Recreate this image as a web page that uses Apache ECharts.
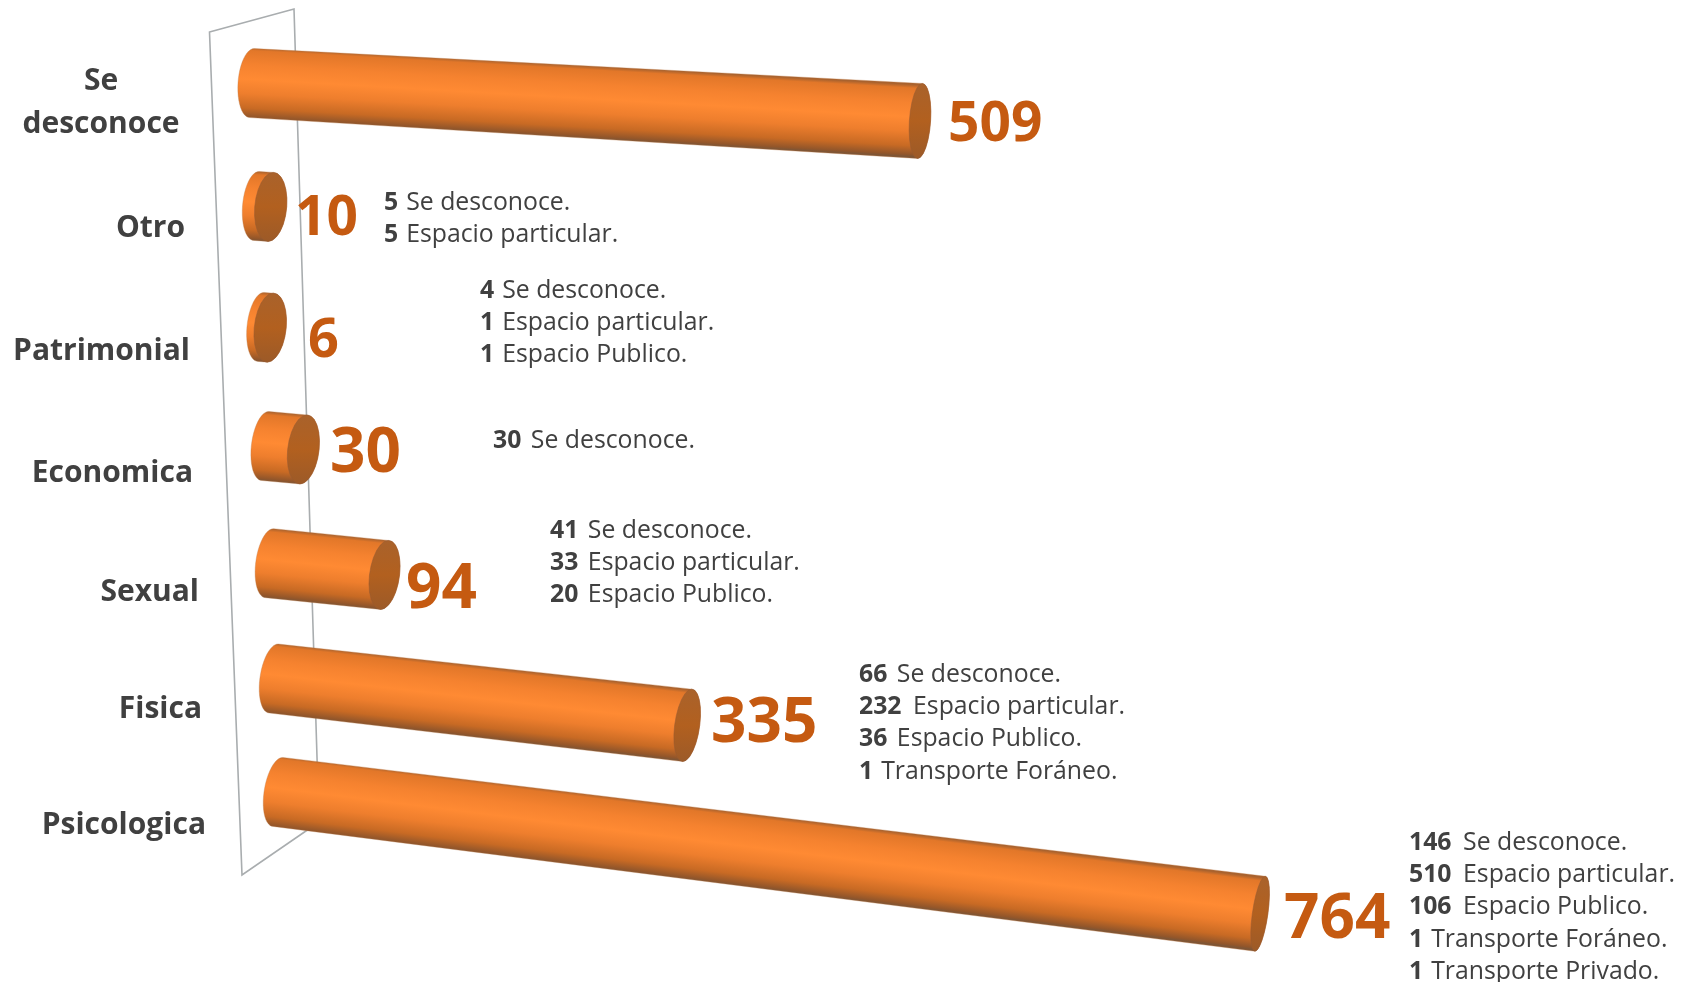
<!DOCTYPE html>
<html>
<head>
<meta charset="utf-8">
<title>Tipos de violencia</title>
<style>
  html, body { margin: 0; padding: 0; background: #fff; }
  #chart { width: 1684px; height: 982px; }
</style>
<script src="https://cdn.jsdelivr.net/npm/echarts@6/dist/echarts.min.js"></script>
</head>
<body>
<div id="chart"></div>
<script>
// data
const categories = ['Se\ndesconoce', 'Otro', 'Patrimonial', 'Economica', 'Sexual', 'Fisica', 'Psicologica'];
const values = [509, 10, 6, 30, 94, 335, 764];
const breakdownOtro = [[5, 'Se desconoce.'], [5, 'Espacio particular.']];
const breakdownPatrimonial = [[4, 'Se desconoce.'], [1, 'Espacio particular.'], [1, 'Espacio Publico.']];
const breakdownEconomica = [[30, 'Se desconoce.']];
const breakdownSexual = [[41, 'Se desconoce.'], [33, 'Espacio particular.'], [20, 'Espacio Publico.']];
const breakdownFisica = [[66, 'Se desconoce.'], [232, 'Espacio particular.'], [36, 'Espacio Publico.'], [1, 'Transporte Foráneo.']];
const breakdownPsicologica = [[146, 'Se desconoce.'], [510, 'Espacio particular.'], [106, 'Espacio Publico.'], [1, 'Transporte Foráneo.'], [1, 'Transporte Privado.']];

// label placement (not data)
const fontFamily = "'Open Sans', 'Noto Sans', sans-serif";
const textColor = '#404040';
const valueColor = '#C55A11';
const categoryLabelPos = [[101, 103, 'center'], [185, 228, 'right'], [190, 351, 'right'], [193, 473, 'right'], [199, 592, 'right'], [202, 709, 'right'], [206, 825, 'right']];
const valueLabelPos = [[948, 125, 55], [295, 219, 55], [308, 342, 54], [330, 454, 62], [406, 590, 62], [711, 724, 62], [1284, 920, 62]];
const breakdownBlocks = [
  [breakdownOtro, 384, 203],
  [breakdownPatrimonial, 480, 291],
  [breakdownEconomica, 493, 441],
  [breakdownSexual, 550, 531],
  [breakdownFisica, 859, 675],
  [breakdownPsicologica, 1409, 843]
];
// space between the count and the place, by digits in the count
const countGap = { 1: 8, 2: 9.5, 3: 11.5 };

const gridLeft = 250;
const gridTop = 24;
const rowFirst = 83;
const rowLast = 792;

// fake 3D: the flat grid is bent into the perspective of the original chart
const project = (px, py) => {
  const y0 = py + 6.76e-5 * (py - rowFirst) * (rowLast - py);
  const bx = 252 + (y0 - rowFirst) * 0.0367;
  const k = 1.2272 - (y0 - rowFirst) * 8.5e-5;
  const u = px - gridLeft;
  const dx = u === 0 ? 0 : 2 + u * (k / 1.2) * (1 + 1.083e-4 * u);
  const slope = 0.0567 + (y0 - rowFirst) * 9.5e-5;
  return { x: bx + dx, y: y0 + slope * dx, slope };
};

const ellipsePoints = (cx, cy, rx, ry, tilt, from, to) => {
  const pts = [];
  const steps = 24;
  for (let i = 0; i <= steps; i++) {
    const t = from + (to - from) * i / steps;
    pts.push([cx + rx * Math.cos(t) - tilt * ry * Math.sin(t), cy + ry * Math.sin(t)]);
  }
  return pts;
};

const renderBar = (params, api) => {
  const start = api.coord([0, api.value(1)]);
  const end = api.coord([api.value(0), api.value(1)]);
  const a = project(start[0], start[1]);
  const b = project(end[0], end[1]);
  const tilt = a.slope * 1.1;
  const ryA = 34.5;
  const ryB = Math.min(37.5, 34.5 + Math.max(0, b.x - 390) * 0.0057);
  const rxA = 14;
  const rxB = 16 - (b.x - 270) * 0.0083;

  const body = ellipsePoints(a.x, a.y, rxA, ryA, tilt, Math.PI / 2, Math.PI * 1.5)
    .concat(ellipsePoints(b.x, b.y, rxB, ryB, tilt, -Math.PI / 2, Math.PI / 2));
  const midX = (a.x + b.x) / 2;
  const midY = (a.y + b.y) / 2;
  const ry = (ryA + ryB) / 2;

  return {
    type: 'group',
    children: [
      {
        type: 'polygon',
        shape: { points: body },
        style: {
          fill: new echarts.graphic.LinearGradient(
            midX + a.slope * ry, midY - ry, midX - a.slope * ry, midY + ry,
            [
              { offset: 0, color: '#A8622E' },
              { offset: 0.05, color: '#E27729' },
              { offset: 0.25, color: '#F5822F' },
              { offset: 0.45, color: '#FF8A33' },
              { offset: 0.65, color: '#EE7E2D' },
              { offset: 0.85, color: '#C86A24' },
              { offset: 0.97, color: '#93562A' },
              { offset: 1, color: '#7E5535' }
            ],
            true
          ),
          stroke: 'rgba(190,120,70,0.35)',
          lineWidth: 1
        }
      },
      {
        type: 'polygon',
        shape: { points: ellipsePoints(b.x, b.y, rxB, ryB, tilt, 0, Math.PI * 2) },
        style: {
          fill: new echarts.graphic.LinearGradient(
            b.x, b.y - ryB, b.x, b.y + ryB,
            [
              { offset: 0, color: '#A9622B' },
              { offset: 0.5, color: '#B2601F' },
              { offset: 1, color: '#9C5A28' }
            ],
            true
          ),
          stroke: 'rgba(150,90,50,0.5)',
          lineWidth: 1
        }
      }
    ]
  };
};

const graphicElements = [
  {
    type: 'polygon',
    z: 0,
    shape: { points: [[209.5, 32], [294, 9], [319, 822], [242, 875]] },
    style: { fill: 'none', stroke: '#A9ADAF', lineWidth: 1.6 }
  }
];

categories.forEach((name, i) => {
  const [x, y, align] = categoryLabelPos[i];
  graphicElements.push({
    type: 'text',
    z: 20,
    style: {
      x, y,
      text: name,
      align,
      verticalAlign: 'middle',
      fill: textColor,
      font: `700 30px ${fontFamily}`,
      lineHeight: 43
    }
  });
  const [vx, vy, size] = valueLabelPos[i];
  graphicElements.push({
    type: 'text',
    z: 20,
    style: {
      x: vx, y: vy,
      text: String(values[i]),
      align: 'left',
      verticalAlign: 'middle',
      fill: valueColor,
      font: `700 ${size}px ${fontFamily}`
    }
  });
});

breakdownBlocks.forEach(([rows, x, y]) => {
  rows.forEach(([count, place], i) => {
    const gap = countGap[String(count).length];
    graphicElements.push({
      type: 'text',
      z: 20,
      style: {
        x,
        y: y + i * 32.2,
        text: `{b|${count}}{r|${place}}`,
        align: 'left',
        verticalAlign: 'middle',
        rich: {
          b: { font: `700 24.8px ${fontFamily}`, fill: textColor, lineHeight: 32 },
          r: { font: `400 24.8px ${fontFamily}`, fill: textColor, lineHeight: 32, padding: [0, 0, 0, gap] }
        }
      }
    });
  });
});

const chart = echarts.init(document.getElementById('chart'));
chart.setOption({
  animation: false,
  backgroundColor: '#fff',
  grid: { left: gridLeft, top: gridTop, width: 960, height: 827, containLabel: false },
  xAxis: { type: 'value', min: 0, max: 800, show: false },
  yAxis: { type: 'category', data: categories, inverse: true, show: false },
  series: [
    {
      type: 'custom',
      z: 5,
      clip: false,
      encode: { x: 0, y: 1 },
      data: values.map((v, i) => [v, i]),
      renderItem: renderBar
    }
  ],
  graphic: { elements: graphicElements }
});
</script>
</body>
</html>
